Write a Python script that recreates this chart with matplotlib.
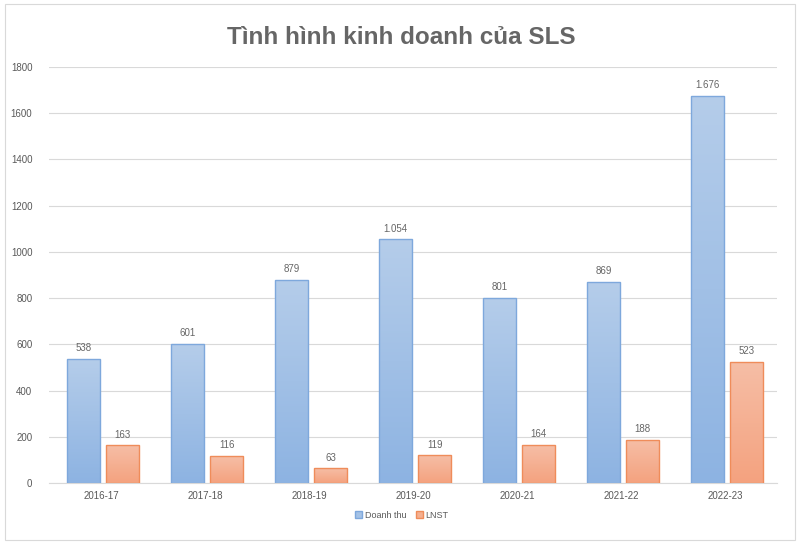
import numpy as np
import matplotlib.pyplot as plt
from matplotlib.patches import Rectangle
from matplotlib.colors import LinearSegmentedColormap

plt.rcParams['font.family'] = ['Liberation Sans', 'DejaVu Sans']

years = ["2016-17", "2017-18", "2018-19", "2019-20", "2020-21", "2021-22", "2022-23"]
doanh_thu = [538, 601, 879, 1054, 801, 869, 1676]
lnst = [163, 116, 63, 119, 164, 188, 523]

GRAY = '#595959'


def fmt(v):
    return f"{v:,}".replace(",", ".")


def gradient_bars(ax, x, heights, width, top, bottom, edge):
    cmap = LinearSegmentedColormap.from_list('g', [bottom, top])
    grad = np.linspace(0, 1, 256).reshape(-1, 1)
    bars = ax.bar(x, heights, width, color='none', edgecolor=edge, linewidth=1.0, zorder=3)
    for b in bars:
        x0, y0 = b.get_x(), b.get_y()
        w, h = b.get_width(), b.get_height()
        im = ax.imshow(grad, cmap=cmap, origin='lower', aspect='auto',
                       extent=(x0, x0 + w, y0, y0 + h), zorder=2)
        im.set_clip_path(b)
    return bars


fig = plt.figure(figsize=(7.99, 5.45), dpi=100)
fig.patches.append(Rectangle((5 / 799, 5 / 545), 790 / 799, 536 / 545, transform=fig.transFigure,
                             fill=False, edgecolor='#d9d9d9', linewidth=0.8))
ax = fig.add_axes([49 / 799, 1 - 483 / 545, 728 / 799, 416 / 545])

x = np.arange(len(years))
w = 0.32
b1 = gradient_bars(ax, x - 0.17, doanh_thu, w, '#b5cdea', '#8db3e2', '#7ea8dc')
b2 = gradient_bars(ax, x + 0.21, lnst, w, '#f6bea6', '#f4a27f', '#ef8c5a')

for xi, v in zip(x - 0.17, doanh_thu):
    ax.text(xi, v + 25, fmt(v), ha='center', va='bottom', fontsize=7, color='#666666')
for xi, v in zip(x + 0.21, lnst):
    ax.text(xi, v + 25, fmt(v), ha='center', va='bottom', fontsize=7, color='#666666')

ax.set_xlim(-0.5, len(years) - 0.5)
ax.set_ylim(0, 1800)
ax.set_yticks(range(0, 1801, 200))
ax.set_xticks(x)
ax.set_xticklabels(years)
ax.tick_params(axis='both', length=0, labelsize=7, labelcolor=GRAY)
ax.tick_params(axis='x', pad=6)
ax.tick_params(axis='y', pad=12)
ax.yaxis.grid(True, color='#d9d9d9', linewidth=0.8, zorder=0)
ax.set_axisbelow(True)
for s in ['top', 'right', 'left']:
    ax.spines[s].set_visible(False)
ax.spines['bottom'].set_color('#d9d9d9')

fig.text(0.502, 1 - 38 / 545, 'Tình hình kinh doanh của SLS', ha='center', va='center',
         fontsize=17.5, fontweight='bold', color='#666666')

handles = [Rectangle((0, 0), 1, 1, facecolor='#a4c2e6', edgecolor='#7ea8dc'),
           Rectangle((0, 0), 1, 1, facecolor='#f5b090', edgecolor='#ef8c5a')]
fig.legend(handles, ['Doanh thu', 'LNST'], loc='center', bbox_to_anchor=(0.503, 1 - 515 / 545),
           ncol=2, frameon=False, fontsize=6.5, labelcolor=GRAY, handlelength=0.8,
           handleheight=0.8, handletextpad=0.3, columnspacing=1.0)

fig.savefig('out.png', dpi=100)
